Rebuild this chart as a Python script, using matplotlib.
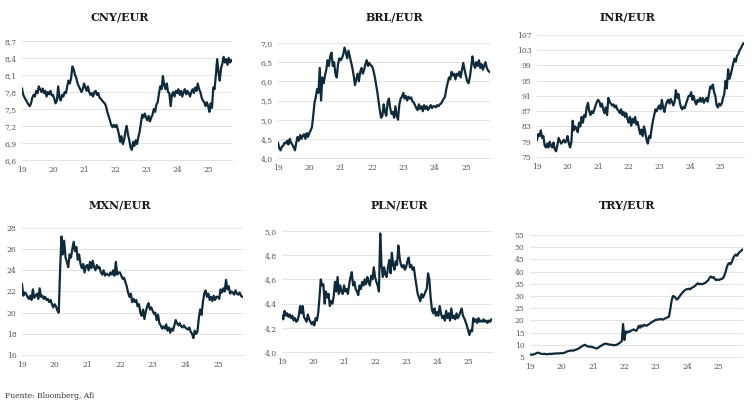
import numpy as np
import matplotlib.pyplot as plt
from matplotlib.ticker import FuncFormatter

# half-monthly readings, Jan 2019 - Sep 2025 (24 per year)
cny = [7.86, 7.75, 7.70, 7.66, 7.62, 7.58, 7.55, 7.60, 7.70, 7.75, 7.72, 7.82, 7.78, 7.90, 7.85, 7.80, 7.86, 7.78, 7.82, 7.72, 7.80, 7.76, 7.82, 7.74,
       7.75, 7.68, 7.60, 7.65, 7.90, 7.70, 7.65, 7.75, 7.72, 7.80, 7.78, 7.90, 8.00, 7.95, 8.05, 8.25, 8.20, 8.10, 8.05, 7.95, 7.90, 7.85, 7.80, 7.85,
       7.95, 7.88, 7.82, 7.90, 7.80, 7.75, 7.78, 7.72, 7.80, 7.82, 7.75, 7.78, 7.70, 7.68, 7.65, 7.62, 7.60, 7.55, 7.45, 7.38, 7.30, 7.22, 7.18, 7.22,
       7.18, 7.22, 7.15, 7.05, 6.92, 7.02, 6.88, 6.95, 7.10, 7.20, 7.05, 6.95, 6.82, 6.78, 6.92, 6.85, 6.95, 6.88, 7.00, 7.10, 7.25, 7.40, 7.35, 7.42,
       7.35, 7.30, 7.38, 7.28, 7.35, 7.40, 7.50, 7.45, 7.58, 7.62, 7.78, 7.90, 7.85, 8.08, 7.92, 7.85, 7.95, 7.80, 7.78, 7.55, 7.75, 7.80, 7.72, 7.82,
       7.78, 7.85, 7.75, 7.82, 7.72, 7.80, 7.85, 7.76, 7.82, 7.78, 7.72, 7.80, 7.85, 7.78, 7.88, 7.82, 7.95, 7.85, 7.80, 7.70, 7.65, 7.62, 7.55, 7.62,
       7.55, 7.45, 7.60, 7.52, 7.88, 7.85, 8.10, 8.38, 8.15, 8.00, 8.22, 8.30, 8.42, 8.32, 8.38, 8.28, 8.40, 8.32, 8.36]

brl = [4.40, 4.25, 4.20, 4.30, 4.32, 4.40, 4.38, 4.45, 4.35, 4.50, 4.40, 4.35, 4.28, 4.20, 4.40, 4.55, 4.45, 4.60, 4.50, 4.58, 4.62, 4.50, 4.65, 4.55,
       4.65, 4.72, 4.80, 5.10, 5.45, 5.60, 5.80, 5.70, 6.35, 5.50, 6.10, 5.95, 6.15, 6.30, 6.55, 6.40, 6.65, 6.75, 6.40, 6.50, 6.20, 6.10, 6.45, 6.60,
       6.55, 6.60, 6.70, 6.88, 6.75, 6.60, 6.80, 6.65, 6.50, 6.35, 6.15, 5.90, 6.05, 6.20, 6.00, 6.25, 6.35, 6.20, 6.30, 6.45, 6.55, 6.40, 6.48, 6.42,
       6.40, 6.30, 6.15, 5.95, 5.75, 5.50, 5.25, 5.05, 5.10, 5.40, 5.20, 5.10, 5.45, 5.55, 5.30, 5.15, 5.20, 5.05, 5.35, 5.10, 5.00, 5.40, 5.55, 5.60,
       5.70, 5.55, 5.62, 5.50, 5.60, 5.55, 5.58, 5.48, 5.45, 5.38, 5.30, 5.25, 5.40, 5.28, 5.35, 5.22, 5.38, 5.28, 5.35, 5.25, 5.32, 5.38, 5.30, 5.35,
       5.35, 5.32, 5.38, 5.35, 5.40, 5.42, 5.48, 5.55, 5.60, 5.80, 5.95, 6.10, 6.05, 6.25, 6.15, 6.20, 6.05, 6.20, 6.15, 6.25, 6.10, 6.30, 6.48, 6.30,
       6.15, 6.00, 5.95, 6.10, 6.35, 6.65, 6.45, 6.35, 6.50, 6.40, 6.55, 6.35, 6.45, 6.30, 6.40, 6.50, 6.35, 6.28, 6.25]

inr = [79.5, 81.0, 80.5, 82.0, 80.0, 80.5, 78.0, 77.5, 78.5, 77.5, 79.0, 78.0, 77.5, 78.8, 77.0, 76.5, 78.0, 80.0, 79.2, 78.5, 79.0, 79.5, 78.8, 79.2,
       80.5, 78.5, 77.5, 79.0, 84.5, 82.0, 83.0, 82.5, 81.5, 84.0, 83.0, 85.5, 84.0, 86.0, 85.5, 88.0, 89.2, 87.0, 86.0, 87.0, 86.5, 87.5, 88.5, 89.5,
       90.0, 89.5, 88.2, 89.0, 87.5, 86.5, 88.0, 86.0, 90.5, 89.5, 89.0, 88.5, 88.8, 88.0, 88.5, 87.5, 87.2, 86.5, 87.5, 86.0, 86.8, 85.5, 86.5, 85.0,
       84.0, 85.5, 83.2, 85.0, 84.0, 85.5, 83.5, 84.2, 82.5, 81.0, 82.2, 80.5, 83.0, 81.5, 79.5, 78.5, 80.5, 80.0, 82.5, 84.5, 86.0, 87.5, 87.0, 88.0,
       88.5, 87.5, 90.0, 88.0, 86.8, 88.5, 89.5, 90.0, 89.0, 90.2, 89.5, 88.5, 89.5, 92.5, 90.5, 91.5, 89.5, 88.0, 87.5, 88.2, 87.8, 89.0, 90.0, 91.0,
       91.0, 92.0, 90.0, 91.0, 89.5, 88.8, 90.0, 89.5, 90.5, 89.5, 90.5, 89.2, 90.0, 90.5, 89.5, 91.5, 93.5, 93.0, 94.0, 92.0, 91.0, 88.5, 88.0, 89.0,
       88.5, 89.0, 90.5, 91.5, 95.0, 93.0, 98.0, 95.5, 96.5, 98.0, 99.5, 100.8, 100.0, 101.5, 102.0, 103.0, 103.5, 104.2, 104.8]

mxn = [22.7, 21.6, 21.9, 21.8, 21.5, 21.3, 21.6, 21.2, 22.2, 21.4, 21.6, 21.8, 21.3, 22.3, 21.5, 21.6, 21.3, 21.5, 21.2, 21.3, 21.0, 21.2, 20.8, 20.5,
       20.8, 20.6, 20.2, 20.0, 24.0, 27.2, 25.5, 26.8, 25.2, 24.8, 24.3, 25.5, 25.2, 26.0, 26.7, 25.8, 26.2, 25.0, 25.5, 24.6, 24.2, 24.6, 23.8, 24.4,
       24.5, 24.0, 24.8, 24.2, 24.9, 24.3, 24.0, 24.5, 24.2, 24.3, 23.8, 23.6, 24.0, 23.5, 23.7, 23.6, 23.5, 23.8, 23.6, 24.0, 23.5, 24.8, 23.6, 23.8,
       23.8, 23.5, 23.2, 23.3, 22.9, 22.5, 21.9, 21.5, 21.8, 21.0, 21.3, 21.0, 21.2, 20.6, 20.8, 20.0, 19.7, 20.3, 19.4, 20.1, 20.6, 20.9, 20.3, 20.5,
       20.2, 19.9, 20.0, 19.3, 19.8, 19.0, 18.8, 18.5, 18.7, 18.5, 18.9, 18.3, 18.6, 18.1, 18.5, 18.3, 18.8, 19.3, 19.0, 18.8, 19.0, 18.7, 18.6, 18.8,
       18.6, 18.5, 18.4, 18.6, 18.2, 18.0, 17.6, 18.3, 18.0, 18.2, 19.5, 20.3, 19.8, 21.0, 21.8, 22.1, 21.5, 21.8, 21.2, 21.5, 21.1, 21.6, 21.2, 21.5,
       21.5, 21.3, 22.2, 21.9, 22.3, 22.0, 23.1, 22.2, 22.5, 21.8, 22.0, 21.9, 21.7, 22.1, 21.8, 21.7, 21.9, 21.6, 21.5]

pln = [4.30, 4.27, 4.34, 4.30, 4.32, 4.29, 4.31, 4.28, 4.30, 4.26, 4.28, 4.25, 4.26, 4.30, 4.38, 4.32, 4.38, 4.29, 4.27, 4.25, 4.31, 4.27, 4.25, 4.23,
       4.25, 4.22, 4.28, 4.26, 4.32, 4.45, 4.60, 4.55, 4.56, 4.40, 4.50, 4.45, 4.48, 4.38, 4.42, 4.40, 4.46, 4.58, 4.50, 4.62, 4.48, 4.55, 4.50, 4.48,
       4.55, 4.50, 4.52, 4.48, 4.56, 4.62, 4.66, 4.55, 4.58, 4.52, 4.50, 4.47, 4.55, 4.52, 4.58, 4.55, 4.60, 4.56, 4.62, 4.58, 4.55, 4.63, 4.60, 4.70,
       4.62, 4.58, 4.55, 4.50, 4.98, 4.72, 4.62, 4.70, 4.64, 4.62, 4.70, 4.76, 4.65, 4.82, 4.72, 4.68, 4.75, 4.72, 4.88, 4.78, 4.72, 4.70, 4.72, 4.68,
       4.70, 4.75, 4.78, 4.70, 4.72, 4.68, 4.70, 4.62, 4.55, 4.48, 4.45, 4.42, 4.48, 4.45, 4.47, 4.50, 4.52, 4.65, 4.60, 4.45, 4.35, 4.32, 4.36, 4.30,
       4.33, 4.30, 4.38, 4.32, 4.28, 4.30, 4.26, 4.34, 4.28, 4.32, 4.26, 4.36, 4.28, 4.30, 4.27, 4.32, 4.28, 4.30, 4.33, 4.36, 4.30, 4.28, 4.25, 4.22,
       4.18, 4.14, 4.18, 4.17, 4.28, 4.25, 4.27, 4.24, 4.28, 4.25, 4.26, 4.25, 4.27, 4.25, 4.26, 4.24, 4.26, 4.25, 4.27]

trl = [6.0, 6.0, 5.9, 6.1, 6.3, 6.6, 6.8, 6.6, 6.4, 6.3, 6.2, 6.3, 6.2, 6.1, 6.2, 6.3, 6.2, 6.4, 6.3, 6.4, 6.5, 6.5, 6.4, 6.6,
       6.5, 6.6, 6.7, 6.9, 7.2, 7.4, 7.5, 7.6, 7.7, 7.6, 7.8, 8.0, 8.2, 8.5, 8.8, 9.2, 9.5, 9.8, 10.0, 9.6, 9.4, 9.2, 9.3, 9.1,
       9.0, 8.8, 8.6, 8.5, 8.8, 9.2, 9.6, 9.8, 10.2, 10.4, 10.5, 10.3, 10.2, 10.0, 10.1, 9.9, 9.8, 9.9, 10.0, 10.3, 10.6, 11.0, 11.5, 18.5,
       12.0, 15.5, 15.0, 15.5, 15.3, 15.8, 16.0, 16.3, 16.0, 15.7, 16.5, 17.8, 17.0, 18.0, 17.5, 18.2, 18.0, 17.8, 18.2, 18.5, 19.0, 19.3, 19.6, 19.9,
       20.3, 20.2, 20.5, 20.4, 20.6, 20.3, 20.5, 20.8, 21.0, 21.3, 21.5, 24.5, 28.0, 30.0, 29.8, 29.3, 28.5, 29.0, 29.8, 30.5, 31.2, 31.8, 32.3, 32.7,
       32.8, 33.0, 32.7, 33.2, 33.5, 33.8, 34.2, 34.8, 35.2, 34.8, 35.0, 34.8, 35.0, 35.2, 35.5, 36.0, 36.5, 37.5, 38.0, 37.5, 37.8, 37.0, 36.5, 36.8,
       36.5, 36.8, 37.0, 37.2, 38.0, 39.5, 41.5, 43.0, 43.5, 43.0, 44.0, 45.5, 46.5, 47.0, 46.5, 47.5, 48.0, 48.5, 49.0]

titles = ['CNY/EUR', 'BRL/EUR', 'INR/EUR', 'MXN/EUR', 'PLN/EUR', 'TRY/EUR']
series = [cny, brl, inr, mxn, pln, trl]
yticks = [np.arange(6.6, 8.71, 0.3), np.arange(4.0, 7.01, 0.5), np.arange(75, 108, 4),
          np.arange(16, 29, 2), np.arange(4.0, 5.01, 0.2), np.arange(5, 56, 5)]
decimals = [1, 1, 0, 0, 1, 0]
year_ticks = np.arange(2019, 2026)
year_labels = ['19', '20', '21', '22', '23', '24', '25']

# axes boxes in pixels: left, top, right, bottom ; title centre x, y
W, H = 754, 408
boxes = [(22, 41, 232, 160, 120, 17), (278, 43, 490, 158, 394, 17), (537, 35, 744, 157, 627, 17),
         (22, 228, 243, 355, 120, 205), (282, 231, 492, 352, 399, 205), (530, 235, 743, 357, 627, 205)]

plt.rcParams['font.family'] = 'DejaVu Serif'
fig = plt.figure(figsize=(W / 100, H / 100), dpi=100)

line_col = '#0f2a3a'
grid_col = '#e3e3e3'
txt_col = '#555555'

for title, s, yt, dec, box in zip(titles, series, yticks, decimals, boxes):
    l, t, r, b, tx, ty = box
    ax = fig.add_axes([l / W, 1 - b / H, (r - l) / W, (b - t) / H])
    x = 2019 + np.arange(len(s)) / 24
    ax.plot(x, s, color=line_col, lw=1.6, solid_joinstyle='round')
    ax.set_xlim(2019, 2025.77)
    ax.set_ylim(yt[0], yt[-1])
    ax.set_yticks(yt)
    ax.set_xticks(year_ticks)
    ax.set_xticklabels(year_labels)
    fmt = (lambda v, p, d=dec: f'{v:.{d}f}'.replace('.', ','))
    ax.yaxis.set_major_formatter(FuncFormatter(fmt))
    ax.grid(axis='y', color=grid_col, lw=0.7)
    ax.set_axisbelow(True)
    for sp in ['top', 'right', 'left']:
        ax.spines[sp].set_visible(False)
    ax.spines['bottom'].set_color(grid_col)
    ax.spines['bottom'].set_linewidth(0.7)
    ax.tick_params(length=0, labelsize=5.5, colors=txt_col, pad=4)
    fig.text(tx / W, 1 - ty / H, title, ha='center', va='center',
             fontsize=8, fontweight='bold', color='#1a1a1a')

fig.text(5 / W, 1 - 396 / H, 'Fuente: Bloomberg, Afi', fontsize=5.5,
         color='#333333', ha='left', va='center')

fig.savefig('out.png', dpi=100, facecolor='white')
